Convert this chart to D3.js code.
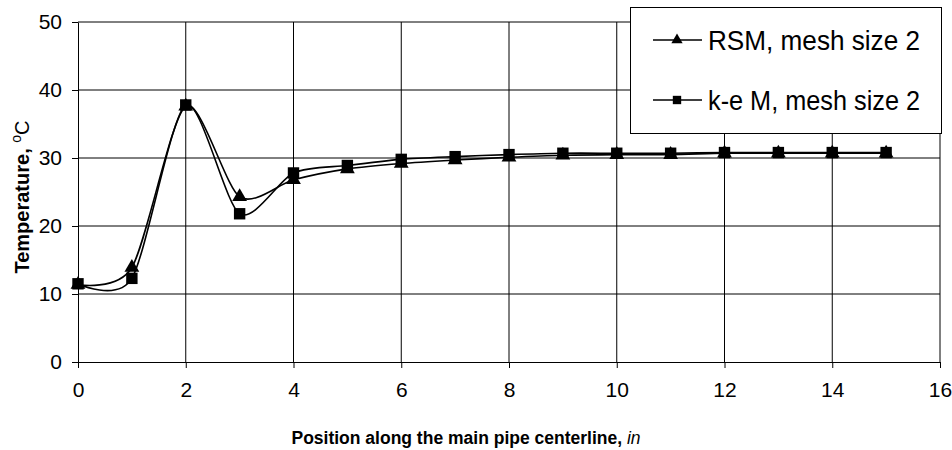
<!DOCTYPE html>
<html><head><meta charset="utf-8">
<script src="https://cdn.jsdelivr.net/npm/d3@7"></script>
<style>body{margin:0;background:#fff}svg{display:block}</style>
</head><body>
<svg id="c" width="952" height="450"></svg>
<script>
const positions = [0,1,2,3,4,5,6,7,8,9,10,11,12,13,14,15];
const rsm = [11.4,13.9,37.6,24.3,26.8,28.4,29.2,29.7,30.1,30.4,30.5,30.5,30.7,30.7,30.7,30.7];
const kem = [11.5,12.3,37.8,21.8,27.8,28.9,29.8,30.2,30.5,30.7,30.7,30.7,30.8,30.8,30.8,30.8];
const xTicks = [0,2,4,6,8,10,12,14,16];
const yTicks = [0,10,20,30,40,50];
const seriesNames = ["RSM, mesh size 2","k-e M, mesh size 2"];

const svg = d3.select("#c");
const FONT = "'Liberation Sans', Arial, sans-serif";
const L = 78, R = 940, T = 22, B = 362;
const x = d3.scaleLinear().domain([0,16]).range([L,R]);
const y = d3.scaleLinear().domain([0,50]).range([B,T]);

// grid
const g = svg.append("g");
g.selectAll("line.gx").data(xTicks.filter(d=>d>0)).join("line")
  .attr("x1",d=>x(d)).attr("x2",d=>x(d)).attr("y1",T).attr("y2",B)
  .attr("stroke","#000").attr("stroke-width",1);
g.selectAll("line.gy").data(yTicks.filter(d=>d>0)).join("line")
  .attr("x1",L).attr("x2",R).attr("y1",d=>y(d)).attr("y2",d=>y(d))
  .attr("stroke","#000").attr("stroke-width",1);

// axes
const ax = svg.append("g").attr("transform",`translate(0,${B})`)
  .call(d3.axisBottom(x).tickValues(xTicks).tickSize(6).tickPadding(14).tickSizeOuter(0));
const ay = svg.append("g").attr("transform",`translate(${L},0)`)
  .call(d3.axisLeft(y).tickValues(yTicks).tickSize(6).tickPadding(10).tickSizeOuter(0));
[ax,ay].forEach(a=>{
  a.selectAll("path,line").attr("stroke","#000").attr("stroke-width",1);
  a.selectAll("text").attr("font-family",FONT).attr("font-size",21).attr("fill","#000");
});

// lines
const line = d3.line().x((d,i)=>x(positions[i])).y(d=>y(d)).curve(d3.curveCardinal.tension(0.2));
svg.append("path").datum(rsm).attr("d",line).attr("fill","none").attr("stroke","#000").attr("stroke-width",1.6);
svg.append("path").datum(kem).attr("d",line).attr("fill","none").attr("stroke","#000").attr("stroke-width",1.6);

const tri = d3.symbol().type(d3.symbolTriangle).size(95);
const sq = d3.symbol().type(d3.symbolSquare).size(130);
svg.append("g").selectAll("path").data(rsm).join("path")
  .attr("d",tri).attr("transform",(d,i)=>`translate(${x(positions[i])},${y(d)})`).attr("fill","#000");
svg.append("g").selectAll("path").data(kem).join("path")
  .attr("d",sq).attr("transform",(d,i)=>`translate(${x(positions[i])},${y(d)})`).attr("fill","#000");

// legend
const lg = svg.append("g");
lg.append("rect").attr("x",630.5).attr("y",7.5).attr("width",311).attr("height",126)
  .attr("fill","#fff").attr("stroke","#000").attr("stroke-width",1);
const ly = [40,100];
seriesNames.forEach((n,i)=>{
  lg.append("line").attr("x1",653).attr("x2",702).attr("y1",ly[i]).attr("y2",ly[i]).attr("stroke","#000").attr("stroke-width",1.6);
  lg.append("path").attr("d",(i===0?d3.symbol().type(d3.symbolTriangle).size(55):d3.symbol().type(d3.symbolSquare).size(70))())
    .attr("transform",`translate(677,${ly[i]})`).attr("fill","#000");
  lg.append("text").attr("x",708).attr("y",ly[i]+10).attr("font-family",FONT).attr("font-size",28)
    .attr("textLength",212).attr("lengthAdjust","spacingAndGlyphs").text(n);
});

// axis titles
const xt = svg.append("text").attr("x",466).attr("y",444).attr("text-anchor","middle")
  .attr("font-family",FONT).attr("font-size",17.5);
xt.append("tspan").attr("font-weight","bold").text("Position along the main pipe centerline, ");
xt.append("tspan").attr("font-style","italic").text("in");

const yt = svg.append("text").attr("transform",`translate(29,197) rotate(-90)`).attr("text-anchor","middle")
  .attr("font-family",FONT).attr("font-size",20);
yt.append("tspan").attr("font-weight","bold").text("Temperature, ");
yt.append("tspan").attr("font-size",14).attr("dy",-8).text("o");
yt.append("tspan").attr("dy",8).text("C");
</script>
</body></html>
